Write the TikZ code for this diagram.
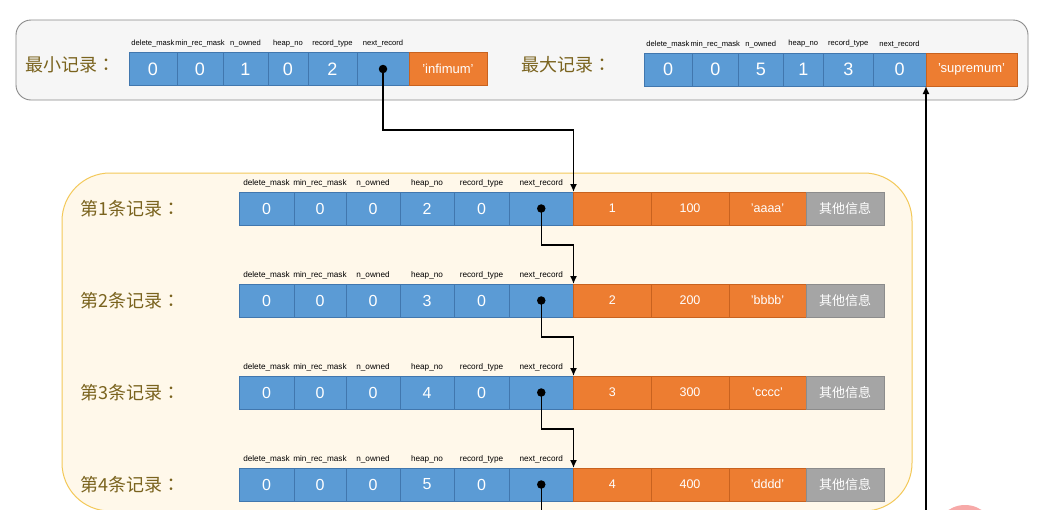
\documentclass[tikz,border=0pt]{standalone}
\usepackage{fontspec}
\setmainfont{Liberation Sans}[Ligatures=ResetAll]
\newfontfamily\cjk{Noto Sans CJK SC}
\newfontfamily\cjkp{Noto Sans CJK TC}
\usetikzlibrary{arrows.meta}
\definecolor{cblue}{HTML}{5B9BD5}
\definecolor{bblue}{HTML}{4177AE}
\definecolor{corange}{HTML}{ED7D31}
\definecolor{borange}{HTML}{C8621F}
\definecolor{cgray}{HTML}{A5A5A5}
\definecolor{bgray}{HTML}{8C8C8C}
\definecolor{lblcol}{HTML}{7A631E}
\definecolor{topfill}{HTML}{F6F6F6}
\definecolor{topdraw}{HTML}{8A8A8A}
\definecolor{yfill}{HTML}{FFF8EA}
\definecolor{ydraw}{HTML}{F3C95A}
\definecolor{pinkc}{HTML}{F7A9A8}
\newcommand\fwcolon{{\cjkp ：}}
\tikzset{
  cellbase/.style={line width=0.6pt, inner sep=0pt, outer sep=0pt, text=white, anchor=west},
  bcell/.style={cellbase, draw=bblue, fill=cblue, minimum height=33pt, font=\fontsize{16}{16}\selectfont},
  tbcell/.style={bcell, font=\fontsize{18}{18}\selectfont},
  ocell/.style={cellbase, draw=borange, fill=corange, minimum height=33pt, font=\fontsize{12.5}{12.5}\selectfont},
  gcell/.style={cellbase, draw=bgray, fill=cgray, minimum height=33pt, font=\cjk\fontsize{13}{13}\selectfont},
  hdr/.style={inner sep=0pt, font=\fontsize{8.2}{8.2}\selectfont},
  thdr/.style={inner sep=0pt, font=\fontsize{7.6}{7.6}\selectfont},
  lbl/.style={inner sep=0pt, anchor=west, text=lblcol, font=\cjk\fontsize{18}{18}\selectfont},
  dotnode/.style={circle, fill=black, inner sep=0pt, minimum size=8.5pt},
  plainline/.style={draw=black, line width=1.5pt},
  link/.style={plainline, -{Latex[length=8pt,width=7pt]}},
}
\newcommand\hdrs[2]{%
  \node[#2] (#1ha) at ([yshift=9pt]#1a.north) {delete\_mask};
  \node[#2] (#1hb) at ([yshift=9pt]#1b.north) {min\_rec\_mask};
  \node[#2] (#1hc) at ([yshift=9pt]#1c.north) {n\_owned};
  \node[#2] (#1hd) at ([yshift=9pt]#1d.north) {heap\_no};
  \node[#2] (#1he) at ([yshift=9pt]#1e.north) {record\_type};
  \node[#2] (#1hf) at ([yshift=9pt]#1f.north) {next\_record};
}
\newcommand\recrow[6]{%
  \node[lbl] (lab#1) at (80,#2) {第#1条记录\fwcolon};
  \node[bcell, minimum width=55pt] (r#1a) at (239,#2) {0};
  \node[bcell, minimum width=52pt] (r#1b) at (r#1a.east) {0};
  \node[bcell, minimum width=54pt] (r#1c) at (r#1b.east) {0};
  \node[bcell, minimum width=54pt] (r#1d) at (r#1c.east) {#3};
  \node[bcell, minimum width=55pt] (r#1e) at (r#1d.east) {0};
  \node[bcell, minimum width=64.5pt] (r#1f) at (r#1e.east) {};
  \node[ocell, minimum width=77.5pt] (r#1g) at (r#1f.east) {#4};
  \node[ocell, minimum width=78pt] (r#1h) at (r#1g.east) {#5};
  \node[ocell, minimum width=77pt] (r#1i) at (r#1h.east) {#6};
  \node[gcell, minimum width=78pt] (r#1j) at (r#1i.east) {其他信息};
  \hdrs{r#1}{hdr}
}
\begin{document}
\begin{tikzpicture}[x=1pt,y=-1pt]
\clip (0,0) rectangle (1044,509);
\fill[white] (0,0) rectangle (1044,509);
% containers
\draw[fill=topfill, draw=topdraw, line width=0.9pt, rounded corners=15pt] (16,20) rectangle (1028,100);
\draw[fill=yfill, draw=ydraw, line width=1pt, rounded corners=48pt] (62,173) rectangle (912,511);
\fill[pinkc] (965,535) circle (30);
% infimum
\node[lbl] (labmin) at (25,65) {最小记录\fwcolon};
\node[tbcell, minimum width=48pt] (ta) at (129,69) {0};
\node[tbcell, minimum width=46pt] (tb) at (ta.east) {0};
\node[tbcell, minimum width=45pt] (tc) at (tb.east) {1};
\node[tbcell, minimum width=40pt] (td) at (tc.east) {0};
\node[tbcell, minimum width=49pt] (te) at (td.east) {2};
\node[tbcell, minimum width=52pt] (tf) at (te.east) {};
\node[ocell, minimum width=78pt, font=\fontsize{13}{13}\selectfont] (tg) at (tf.east) {'infimum'};
\hdrs{t}{thdr}
% supremum
\node[lbl] (labmax) at (521,65) {最大记录\fwcolon};
\node[tbcell, minimum width=48pt] (sa) at (644,69.5) {0};
\node[tbcell, minimum width=46.5pt] (sb) at (sa.east) {0};
\node[tbcell, minimum width=44.5pt] (sc) at (sb.east) {5};
\node[tbcell, minimum width=40.5pt] (sd) at (sc.east) {1};
\node[tbcell, minimum width=49.5pt] (se) at (sd.east) {3};
\node[tbcell, minimum width=53pt] (sf) at (se.east) {0};
\node[ocell, minimum width=91pt, font=\fontsize{13}{13}\selectfont] (sg) at (sf.east) {'supremum'};
\hdrs{s}{thdr}
% records
\recrow{1}{208.5}{2}{1}{100}{'aaaa'}
\recrow{2}{300.5}{3}{2}{200}{'bbbb'}
\recrow{3}{392.5}{4}{3}{300}{'cccc'}
\recrow{4}{484.5}{5}{4}{400}{'dddd'}
% dots
\node[dotnode] (tdot) at (tf.center) {};
\node[dotnode] (d1) at (r1f.center) {};
\node[dotnode] (d2) at (r2f.center) {};
\node[dotnode] (d3) at (r3f.center) {};
\node[dotnode] (d4) at (r4f.center) {};
% connectors
\coordinate (j0) at (0,130);
\coordinate (j1) at (0,245);
\coordinate (j2) at (0,337);
\coordinate (j3) at (0,429);
\coordinate (e4) at (0,520);
\coordinate (s0) at (926,520);
\draw[link] (tdot.center) -- (tdot.center |- j0) -| (r1g.north west);
\draw[link] (d1.center) -- (d1.center |- j1) -| (r2g.north west);
\draw[link] (d2.center) -- (d2.center |- j2) -| (r3g.north west);
\draw[link] (d3.center) -- (d3.center |- j3) -| (r4g.north west);
\draw[plainline] (d4.center) -- (d4.center |- e4);
\draw[link] (s0) -- (sg.south west);
\end{tikzpicture}
\end{document}
